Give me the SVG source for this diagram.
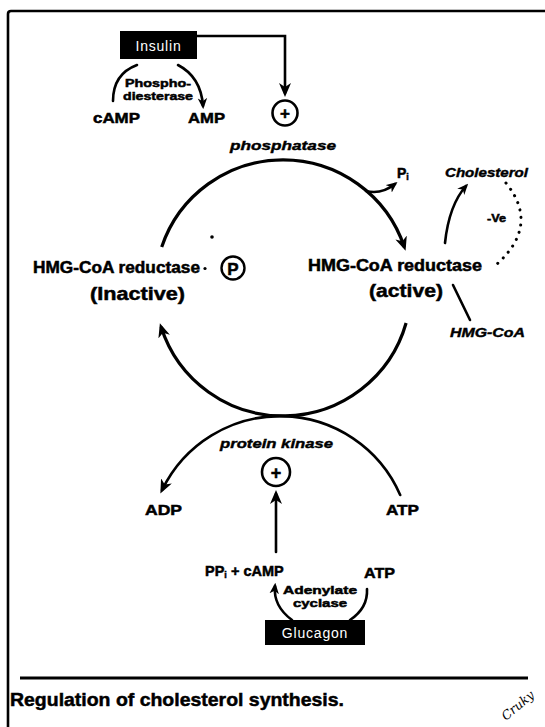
<svg xmlns="http://www.w3.org/2000/svg" width="545" height="727" viewBox="0 0 545 727">
  <style>
    .t { font-family: "Liberation Sans", Arial, sans-serif; font-weight: bold; fill: #000; stroke: #000; stroke-width: 0.5; }
    .ti { font-family: "Liberation Sans", Arial, sans-serif; font-weight: bold; font-style: italic; fill: #000; stroke: #000; stroke-width: 0.4; }
    .w { font-family: "Liberation Sans", Arial, sans-serif; fill: #fff; }
    .ln { fill: none; stroke: #000; stroke-width: 2.6; stroke-linecap: round; }
    .thick { fill: none; stroke: #000; stroke-width: 3.2; }
    .box { fill: #000; }
    .ring { fill: #fff; stroke: #000; stroke-width: 2.6; }
  </style>
  <defs>
    <marker id="arr" viewBox="0 0 14 12" refX="10" refY="6" markerWidth="14" markerHeight="12" markerUnits="userSpaceOnUse" orient="auto">
      <path d="M0,0 L14,6 L0,12 L4,6 Z" fill="#000"/>
    </marker>
    <marker id="arrS" viewBox="0 0 14 12" refX="10" refY="6" markerWidth="11" markerHeight="10" markerUnits="userSpaceOnUse" orient="auto">
      <path d="M0,0 L14,6 L0,12 L4,6 Z" fill="#000"/>
    </marker>
  </defs>

  <rect width="545" height="727" fill="#fff"/>

  <!-- frame and caption rule -->
  <g id="frame">
    <path d="M8,727 V14 Q8,11 11,11 H545" fill="none" stroke="#000" stroke-width="2.6"/>
    <line x1="20" y1="678" x2="528" y2="678" stroke="#000" stroke-width="2.8"/>
  </g>

  <!-- connectors -->
  <g id="connectors">
    <!-- insulin to phosphatase -->
    <path class="ln" d="M197,36 H285 V93" marker-end="url(#arr)"/>
    <!-- phosphodiesterase: cAMP to AMP -->
    <path class="ln" d="M137,65 Q113,74 113,101"/>
    <path class="ln" d="M178,65 Q201,77 203,106" marker-end="url(#arrS)"/>
    <!-- phosphatase: inactive to active -->
    <path class="thick" d="M161.7,247 A128,128 0 0,1 404.3,247" marker-end="url(#arr)"/>
    <path class="ln" d="M366,191 Q381,195 395,184" marker-end="url(#arrS)"/>
    <!-- kinase: active to inactive -->
    <path class="thick" d="M406.1,323 A128,128 0 0,1 161.1,327" marker-end="url(#arr)"/>
    <!-- protein kinase: ATP to ADP -->
    <path class="ln" d="M400.2,495 A131,131 0 0,0 162.1,490" marker-end="url(#arr)"/>
    <!-- cAMP activates protein kinase -->
    <path class="ln" d="M276,552 V494" marker-end="url(#arr)"/>
    <!-- active reductase to cholesterol -->
    <path class="ln" d="M445,243 Q449,205 466,186" marker-end="url(#arrS)"/>
    <!-- negative feedback -->
    <path d="M506,183 Q540,225 497,264" fill="none" stroke="#000" stroke-width="3" stroke-linecap="round" stroke-dasharray="0.1 7.5"/>
    <!-- HMG-CoA substrate -->
    <path class="ln" d="M453,285 L470,320"/>
    <!-- adenylate cyclase: ATP to cAMP -->
    <path class="ln" d="M292,620 Q273,606 275,586" marker-end="url(#arrS)"/>
    <path class="ln" d="M350,620 Q368,608 367,589"/>
    <!-- stray dot -->
    <circle cx="212" cy="237" r="1.8" fill="#000"/>
  </g>

  <g id="insulin">
    <rect class="box" x="120" y="31" width="77" height="28"/>
    <text class="w" x="158.5" y="51" font-size="14" text-anchor="middle" letter-spacing="0.8">Insulin</text>
  </g>

  <g id="phosphodiesterase">
    <text class="t" x="158" y="87" font-size="11.5" text-anchor="middle" textLength="66" lengthAdjust="spacingAndGlyphs">Phospho-</text>
    <text class="t" x="158" y="100" font-size="11.5" text-anchor="middle" textLength="70" lengthAdjust="spacingAndGlyphs">diesterase</text>
  </g>

  <g id="camp-top">
    <text class="t" x="93" y="123" font-size="14.5" textLength="47" lengthAdjust="spacingAndGlyphs">cAMP</text>
  </g>
  <g id="amp">
    <text class="t" x="188" y="123" font-size="14.5" textLength="37" lengthAdjust="spacingAndGlyphs">AMP</text>
  </g>

  <g id="phosphatase">
    <circle class="ring" cx="285" cy="113" r="12.5"/>
    <text class="t" x="285" y="119" font-size="17" text-anchor="middle">+</text>
    <text class="ti" x="230" y="150" font-size="13" textLength="106" lengthAdjust="spacingAndGlyphs">phosphatase</text>
  </g>

  <g id="pi">
    <text class="t" x="397" y="178" font-size="14">P<tspan font-size="9" dy="2">i</tspan></text>
  </g>

  <g id="cholesterol">
    <text class="ti" x="445" y="177" font-size="12.5" textLength="83" lengthAdjust="spacingAndGlyphs">Cholesterol</text>
  </g>
  <g id="negative">
    <text class="t" x="487" y="222" font-size="11" textLength="19" lengthAdjust="spacingAndGlyphs">-Ve</text>
  </g>

  <g id="reductase-active">
    <text class="t" x="308" y="271" font-size="16" textLength="174" lengthAdjust="spacingAndGlyphs">HMG-CoA reductase</text>
    <text class="t" x="369" y="297" font-size="19" textLength="74" lengthAdjust="spacingAndGlyphs">(active)</text>
  </g>

  <g id="hmgcoa">
    <text class="ti" x="450" y="337" font-size="12.5" textLength="75" lengthAdjust="spacingAndGlyphs">HMG-CoA</text>
  </g>

  <g id="reductase-inactive">
    <text class="t" x="33" y="273" font-size="16" textLength="167" lengthAdjust="spacingAndGlyphs">HMG-CoA reductase</text>
    <circle cx="205" cy="268.5" r="1.6" fill="#000"/>
    <circle fill="#fff" stroke="#000" stroke-width="2.4" cx="233" cy="268" r="11.5"/>
    <text class="t" x="233" y="274.5" font-size="17" text-anchor="middle">P</text>
    <text class="t" x="90" y="300" font-size="19" textLength="95" lengthAdjust="spacingAndGlyphs">(Inactive)</text>
  </g>

  <g id="protein-kinase">
    <text class="ti" x="220" y="448" font-size="13" textLength="113" lengthAdjust="spacingAndGlyphs">protein kinase</text>
    <circle class="ring" cx="276" cy="472" r="14"/>
    <text class="t" x="276" y="478.5" font-size="18" text-anchor="middle">+</text>
  </g>

  <g id="adp">
    <text class="t" x="145" y="515" font-size="14.5" textLength="37" lengthAdjust="spacingAndGlyphs">ADP</text>
  </g>
  <g id="atp-kinase">
    <text class="t" x="386" y="515" font-size="14.5" textLength="33" lengthAdjust="spacingAndGlyphs">ATP</text>
  </g>

  <g id="ppi-camp">
    <text class="t" x="205" y="576" font-size="14.5">PP<tspan font-size="9" dy="2">i</tspan><tspan dy="-2"> + cAMP</tspan></text>
  </g>
  <g id="atp-cyclase">
    <text class="t" x="364" y="578" font-size="14.5" textLength="31" lengthAdjust="spacingAndGlyphs">ATP</text>
  </g>

  <g id="adenylate-cyclase">
    <text class="t" x="320" y="594" font-size="11.5" text-anchor="middle" textLength="74" lengthAdjust="spacingAndGlyphs">Adenylate</text>
    <text class="t" x="320" y="607" font-size="11.5" text-anchor="middle" textLength="54" lengthAdjust="spacingAndGlyphs">cyclase</text>
  </g>

  <g id="glucagon">
    <rect class="box" x="265" y="620" width="100" height="25"/>
    <text class="w" x="315" y="638" font-size="14" text-anchor="middle" letter-spacing="0.8">Glucagon</text>
  </g>

  <g id="caption">
    <text class="t" x="10" y="706" font-size="19" stroke-width="0.8" textLength="334" lengthAdjust="spacingAndGlyphs">Regulation of cholesterol synthesis.</text>
  </g>

  <g id="signature">
    <text x="506" y="721" font-family="DejaVu Serif, serif" font-style="italic" font-size="12.5" fill="#000" transform="rotate(-40 506 721)">Cruky</text>
  </g>
</svg>
